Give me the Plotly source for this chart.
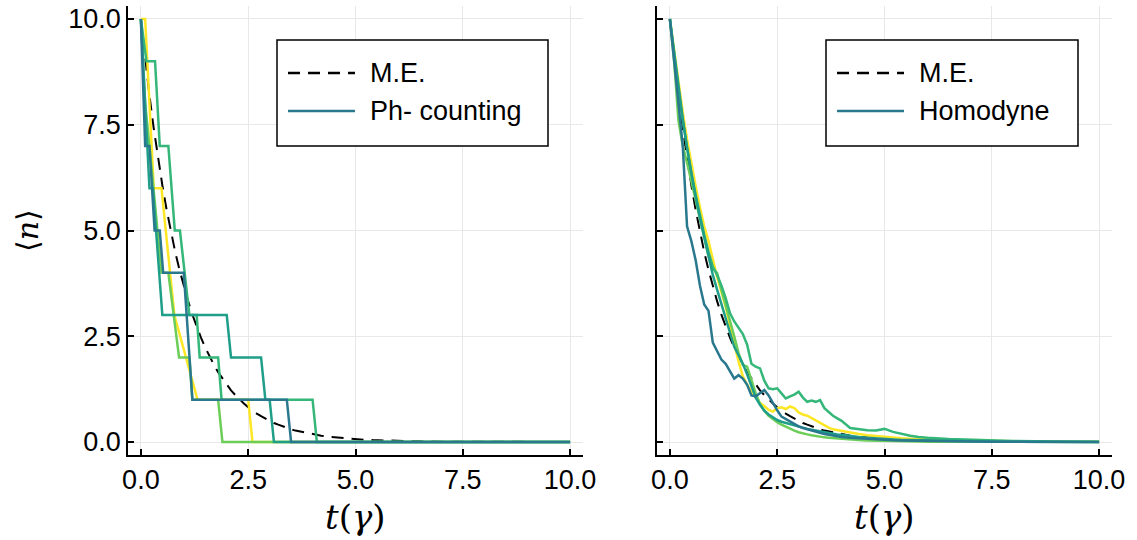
import plotly.graph_objects as go

# ---------------- data ----------------
tick_vals = [0, 2.5, 5, 7.5, 10]
tick_text = ["0.0", "2.5", "5.0", "7.5", "10.0"]

# master equation <n>(t)
t_me = [0, .1, .2, .3, .4, .5, .6, .7, .8, .9, 1.0, 1.1, 1.2, 1.3, 1.4, 1.5, 1.6, 1.7, 1.8, 1.9,
        2.0, 2.1, 2.2, 2.3, 2.4, 2.5, 2.6, 2.7, 2.8, 2.9, 3.0, 3.1, 3.2, 3.3, 3.4, 3.5, 3.6, 3.7,
        3.8, 3.9, 4.0, 4.2, 4.4, 4.6, 4.8, 5.0, 5.2, 5.4, 5.6, 5.8, 6.0, 6.5, 7.0, 7.5, 8.0, 9.0, 10.0]
n_me = [10, 9.05, 8.19, 7.41, 6.70, 6.07, 5.49, 4.97, 4.49, 4.07, 3.68, 3.33, 3.01, 2.73, 2.47,
        2.23, 2.02, 1.83, 1.65, 1.50, 1.35, 1.22, 1.11, 1.00, 0.91, 0.82, 0.74, 0.67, 0.61, 0.55,
        0.50, 0.45, 0.41, 0.37, 0.33, 0.30, 0.27, 0.25, 0.22, 0.20, 0.18, 0.15, 0.12, 0.10, 0.08,
        0.07, 0.055, 0.045, 0.037, 0.03, 0.025, 0.015, 0.009, 0.006, 0.003, 0.001, 0.0005]

# photon counting trajectories (vertices of the jump records)
pc_yellow_t = [0, 0.1, 0.3, 0.48, 0.78, 1.32, 2.5, 2.6, 10]
pc_yellow_n = [10, 10, 6, 6, 3, 1, 1, 0, 0]
pc_lgreen_t = [0, 0.1, 0.2, 0.48, 0.64, 0.89, 1.13, 1.2, 1.8, 1.9, 10]
pc_lgreen_n = [10, 8, 7, 4, 4, 2, 2, 1, 1, 0, 0]
pc_green_t = [0, 0.13, 0.33, 0.44, 0.64, 0.79, 0.91, 1.13, 1.3, 1.37, 1.8, 1.88, 4.0, 4.1, 10]
pc_green_n = [10, 9, 9, 7, 7, 5, 5, 3, 3, 2, 2, 1, 1, 0, 0]
pc_teal_t = [0, 0.2, 0.28, 0.5, 2.0, 2.1, 2.8, 2.9, 3.0, 3.1, 10]
pc_teal_n = [10, 6, 6, 3, 3, 2, 2, 1, 1, 0, 0]
pc_blue_t = [0, 0.1, 0.2, 0.32, 0.44, 0.52, 1.0, 1.2, 3.4, 3.5, 10]
pc_blue_n = [10, 7, 7, 5, 5, 4, 4, 1, 1, 0, 0]

# homodyne trajectories
t_hd = [0, .1, .2, .3, .4, .5, .6, .7, .8, .9, 1.0, 1.1, 1.2, 1.3, 1.4, 1.5, 1.6, 1.7, 1.8, 1.9,
        2.0, 2.1, 2.2, 2.3, 2.4, 2.5, 2.6, 2.7, 2.8, 2.9, 3.0, 3.1, 3.2, 3.3, 3.4, 3.5, 3.6, 3.7,
        3.8, 3.9, 4.0, 4.2, 4.4, 4.6, 4.8, 5.0, 5.2, 5.4, 5.6, 5.8, 6.0, 6.5, 7.0, 7.5, 8.0, 9.0, 10.0]
hd_yellow = [10, 9.25, 8.5, 7.8, 7.15, 6.55, 6.05, 5.55, 5.1, 4.75, 4.3, 3.9, 3.55, 3.2, 2.75,
             2.3, 1.9, 1.55, 1.35, 1.2, 1.05, 0.92, 0.85, 0.76, 0.72, 0.8, 0.82, 0.78, 0.84, 0.8,
             0.7, 0.65, 0.62, 0.56, 0.5, 0.44, 0.38, 0.34, 0.3, 0.28, 0.26, 0.22, 0.19, 0.16,
             0.14, 0.12, 0.1, 0.09, 0.08, 0.07, 0.06, 0.045, 0.03, 0.02, 0.015, 0.008, 0.004]
hd_lgreen = [10, 9.0, 7.6, 7.0, 6.6, 6.15, 5.7, 5.25, 4.8, 4.4, 4.1, 4.0, 3.6, 3.25, 2.9, 2.5,
             2.1, 1.82, 1.78, 1.45, 1.15, 0.9, 0.74, 0.62, 0.54, 0.47, 0.41, 0.36, 0.31, 0.27,
             0.23, 0.2, 0.18, 0.16, 0.14, 0.125, 0.11, 0.1, 0.09, 0.08, 0.07, 0.055, 0.045, 0.037,
             0.03, 0.025, 0.02, 0.016, 0.013, 0.011, 0.009, 0.006, 0.004, 0.003, 0.002, 0.001, 0.0]
hd_green = [10, 9.15, 8.35, 7.6, 6.95, 6.35, 5.85, 5.35, 4.9, 4.5, 4.15, 3.95, 3.7, 3.4, 3.05,
            2.85, 2.7, 2.55, 2.3, 1.85, 1.78, 1.74, 1.45, 1.27, 1.25, 1.27, 1.15, 1.03, 1.08,
            1.12, 1.19, 1.05, 0.95, 0.98, 0.95, 0.99, 0.8, 0.7, 0.62, 0.56, 0.5, 0.33, 0.3,
            0.28, 0.27, 0.31, 0.24, 0.19, 0.15, 0.12, 0.1, 0.07, 0.05, 0.035, 0.025, 0.012, 0.006]
hd_teal = [10, 9.2, 8.45, 7.65, 6.95, 6.35, 5.8, 5.3, 4.85, 4.4, 3.95, 3.6, 3.25, 2.9, 2.55,
           2.25, 2.05, 1.85, 1.6, 1.3, 1.05, 0.88, 0.74, 0.65, 0.58, 0.52, 0.48, 0.45, 0.42, 0.4,
           0.37, 0.34, 0.31, 0.29, 0.27, 0.25, 0.23, 0.21, 0.2, 0.18, 0.17, 0.14, 0.12, 0.1,
           0.085, 0.07, 0.06, 0.05, 0.045, 0.04, 0.035, 0.025, 0.018, 0.012, 0.008, 0.004, 0.002]
hd_blue = [10, 9.0, 8.1, 7.0, 5.1, 4.75, 4.3, 3.7, 3.25, 3.1, 2.35, 2.15, 1.95, 1.85, 1.68,
           1.5, 1.58, 1.5, 1.35, 1.1, 1.08, 1.15, 1.23, 1.1, 0.92, 0.75, 0.6, 0.54, 0.48, 0.42,
           0.37, 0.33, 0.3, 0.27, 0.24, 0.21, 0.19, 0.17, 0.15, 0.135, 0.12, 0.1, 0.085, 0.07,
           0.055, 0.045, 0.04, 0.035, 0.03, 0.025, 0.02, 0.014, 0.01, 0.007, 0.005, 0.002, 0.001]

legend_left = ["M.E.", "Ph- counting"]
legend_right = ["M.E.", "Homodyne"]

# ---------------- style ----------------
C_YEL, C_LGR, C_GRN, C_TEA, C_BLU = "#FDE725", "#6DCD59", "#35B779", "#1F9E89", "#2A788E"
DASH = "12px,8px"
LW = 2.5
W, H = 1137, 540
XL = (128 / W, 583 / W)
XR = (657 / W, 1112 / W)
YD = (1 - 454.7 / H, 1 - 6.3 / H)

fig = go.Figure()

def line(x, y, color, xa, ya, dash=None, width=LW):
    fig.add_trace(go.Scatter(x=x, y=y, mode="lines", xaxis=xa, yaxis=ya, showlegend=False,
                             line=dict(color=color, width=width, dash=dash), hoverinfo="skip"))

# left panel
line(t_me, n_me, "black", "x", "y", DASH, 2)
line(pc_yellow_t, pc_yellow_n, C_YEL, "x", "y")
line(pc_lgreen_t, pc_lgreen_n, C_LGR, "x", "y")
line(pc_green_t, pc_green_n, C_GRN, "x", "y")
line(pc_teal_t, pc_teal_n, C_TEA, "x", "y")
line(pc_blue_t, pc_blue_n, C_BLU, "x", "y")
# right panel
line(t_me, n_me, "black", "x2", "y2", DASH, 2)
line(t_hd, hd_yellow, C_YEL, "x2", "y2")
line(t_hd, hd_lgreen, C_LGR, "x2", "y2")
line(t_hd, hd_green, C_GRN, "x2", "y2")
line(t_hd, hd_teal, C_TEA, "x2", "y2")
line(t_hd, hd_blue, C_BLU, "x2", "y2")

TICKFONT = dict(family="Liberation Sans, Arial, sans-serif", size=27, color="black")
axis_common = dict(range=[-0.3, 10.3], tickvals=tick_vals, ticktext=tick_text,
                   showline=True, linecolor="black", linewidth=1.5, mirror=False,
                   ticks="inside", ticklen=6, tickwidth=1.5, tickcolor="black",
                   showgrid=True, gridcolor="#E8E8E8", gridwidth=1, zeroline=False,
                   tickfont=TICKFONT, automargin=False, fixedrange=True)

fig.update_layout(
    width=W, height=H, margin=dict(l=0, r=0, t=0, b=0),
    paper_bgcolor="white", plot_bgcolor="white", showlegend=False,
    xaxis=dict(domain=XL, anchor="y", **axis_common),
    yaxis=dict(domain=YD, anchor="x", **axis_common),
    xaxis2=dict(domain=XR, anchor="y2", **axis_common),
    yaxis2=dict(domain=YD, anchor="x2", showticklabels=False, **axis_common),
)

# hand-drawn legends (box, samples, labels)
LEGFONT = dict(family="Liberation Sans, Arial, sans-serif", size=27, color="black")
def legend_box(x0, x1, labels, colors, dashes):
    px = lambda v: v / W
    py = lambda v: 1 - v / H
    fig.add_shape(type="rect", xref="paper", yref="paper", x0=px(x0), x1=px(x1),
                  y0=py(146), y1=py(40), line=dict(color="black", width=1.5),
                  fillcolor="white", layer="above")
    for i, (lab, col, d) in enumerate(zip(labels, colors, dashes)):
        yy = 73 + 38 * i
        fig.add_shape(type="line", xref="paper", yref="paper", x0=px(x0 + 11), x1=px(x0 + 78),
                      y0=py(yy), y1=py(yy), line=dict(color=col, width=2.5, dash=d), layer="above")
        fig.add_annotation(x=px(x0 + 91), y=py(yy), xref="paper", yref="paper", text=lab,
                           showarrow=False, xanchor="left", yanchor="middle", font=LEGFONT)

legend_box(277, 548, legend_left, ["black", C_BLU], [DASH, None])
legend_box(826, 1078, legend_right, ["black", C_BLU], [DASH, None])

TITLEFONT = dict(family="DejaVu Serif, serif", size=34, color="black")
fig.add_annotation(x=355 / W, y=1 - 517 / H, xref="paper", yref="paper",
                   text="<i>t</i>(<i>γ</i>)", showarrow=False, font=TITLEFONT,
                   xanchor="center", yanchor="middle")
fig.add_annotation(x=884 / W, y=1 - 517 / H, xref="paper", yref="paper",
                   text="<i>t</i>(<i>γ</i>)", showarrow=False, font=TITLEFONT,
                   xanchor="center", yanchor="middle")
fig.add_annotation(x=27 / W, y=1 - 230 / H, xref="paper", yref="paper",
                   text="⟨<i>n</i>⟩", showarrow=False, textangle=-90,
                   font=dict(family="DejaVu Serif, serif", size=30, color="black"),
                   xanchor="center", yanchor="middle")

fig.write_html("out.html")
